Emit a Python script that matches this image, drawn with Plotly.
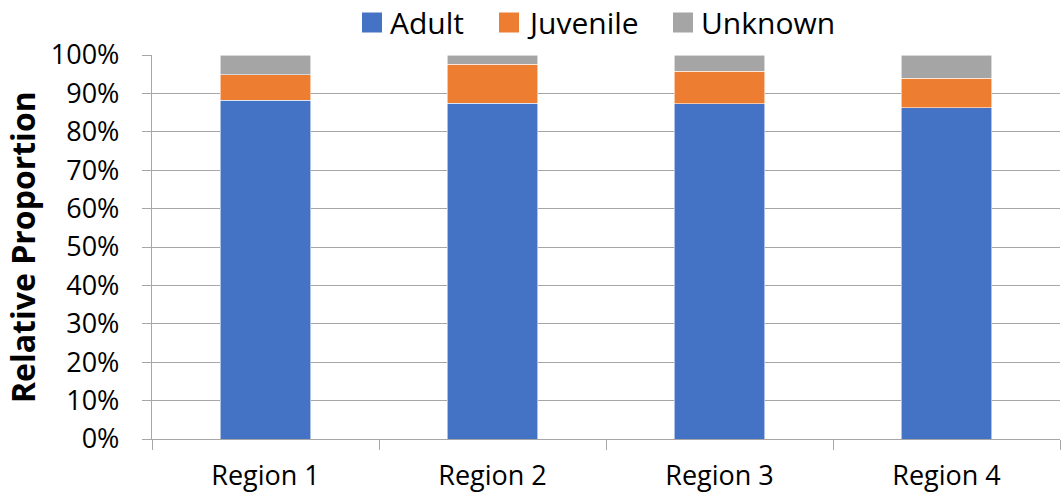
import plotly.graph_objects as go

# Relative proportion of each life stage per region (%)
regions = ["Region 1", "Region 2", "Region 3", "Region 4"]
adult = [88.2, 87.5, 87.3, 86.2]
juvenile = [6.7, 10.1, 8.5, 7.8]
unknown = [5.1, 2.4, 4.2, 6.0]

series_names = ["Adult", "Juvenile", "Unknown"]
series_colors = ["#4472C4", "#ED7D31", "#A5A5A5"]
y_ticks = list(range(0, 101, 10))
y_tick_labels = [f"{v}%" for v in y_ticks]

FONT = "Open Sans"
W, H = 1061, 500
L, R, T, B = 152, 1, 55, 61
plot_w = W - L - R
plot_h = H - T - B


def px_x(px):
    return (px - L) / plot_w


def px_y(py):
    return (H - B - py) / plot_h


fig = go.Figure()
for name, vals, col in zip(series_names, [adult, juvenile, unknown], series_colors):
    fig.add_trace(go.Bar(
        x=regions, y=vals, name=name, showlegend=False,
        marker=dict(color=col, line=dict(color="rgba(255,255,255,0.7)", width=0.8)),
    ))

# Legend drawn as swatches + labels across the top
legend_x = [362, 499, 673]
shapes = []
annotations = []
for name, col, x0 in zip(series_names, series_colors, legend_x):
    shapes.append(dict(
        type="rect", xref="paper", yref="paper",
        x0=px_x(x0), x1=px_x(x0 + 20), y0=px_y(32.5), y1=px_y(12.5),
        fillcolor=col, line=dict(width=0),
    ))
    annotations.append(dict(
        xref="paper", yref="paper", x=px_x(x0 + 26), y=px_y(22),
        xanchor="left", yanchor="middle", showarrow=False, text=name,
        font=dict(family=FONT, size=30, color="#000000"),
    ))

annotations.append(dict(
    xref="paper", yref="paper", x=px_x(22), y=0.5,
    xanchor="center", yanchor="middle", showarrow=False, textangle=-90,
    text="<b>Relative Proportion</b>",
    font=dict(family=FONT, size=32, color="#000000"),
))

fig.update_layout(
    width=W, height=H,
    margin=dict(l=L, r=R, t=T, b=B, autoexpand=False),
    barmode="stack", bargap=0.6,
    plot_bgcolor="white", paper_bgcolor="white",
    font=dict(family=FONT, size=27, color="#000000"),
    shapes=shapes, annotations=annotations,
)
fig.update_xaxes(
    range=[-0.5, 3.5], showgrid=False, tickson="boundaries",
    ticks="outside", ticklen=10, tickcolor="#A6A6A6", tickwidth=1.3,
    showline=True, linecolor="#A6A6A6", linewidth=1.3,
    ticklabelstandoff=12,
    tickfont=dict(family=FONT, size=27, color="#000000"),
)
fig.update_yaxes(
    range=[0, 100], tickvals=y_ticks, ticktext=y_tick_labels,
    showgrid=True, gridcolor="#A6A6A6", gridwidth=1.3,
    ticks="outside", ticklen=9, tickcolor="#A6A6A6", tickwidth=1.3,
    showline=True, linecolor="#A6A6A6", linewidth=1.3,
    zeroline=False, ticklabelstandoff=17,
    tickfont=dict(family=FONT, size=27, color="#000000"),
)

fig.write_html("out.html")
